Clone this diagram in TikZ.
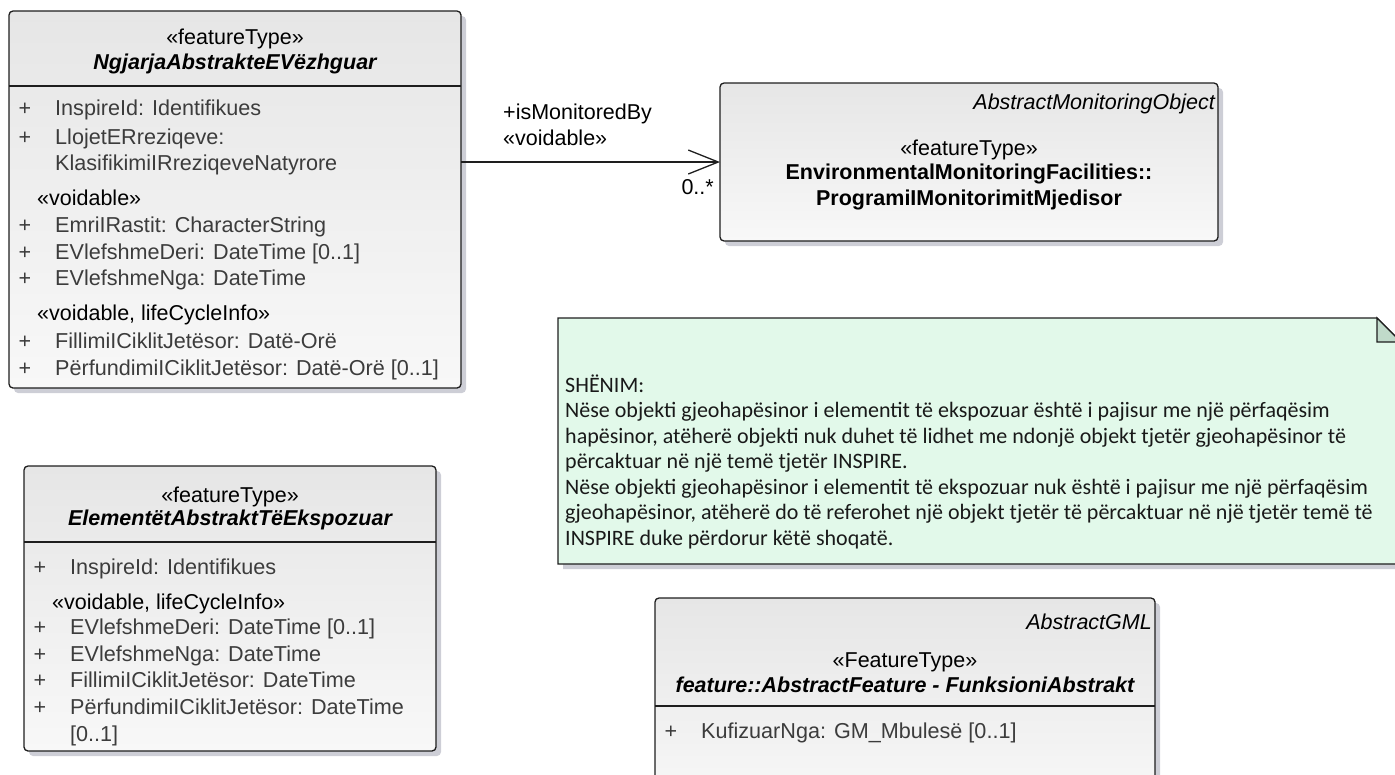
\documentclass[tikz,border=0pt]{standalone}
\usepackage{fontspec}
\setmainfont{Liberation Sans}
\newfontfamily\notefont{Carlito}
\usetikzlibrary{shadows,arrows.meta}
\definecolor{edge}{HTML}{1E1E1E}
\definecolor{attrc}{HTML}{3C3C3C}
\definecolor{shadowc}{HTML}{CDCED6}
\definecolor{notefill}{HTML}{E2F9EA}
\definecolor{foldfill}{HTML}{C0DACA}
\definecolor{boxtop}{HTML}{E6E6E6}
\definecolor{boxbot}{HTML}{F8F8F8}
\begin{document}
\begin{tikzpicture}[x=1pt,y=-1pt,
  classbox/.style={draw=edge, line width=1.3pt, rounded corners=4pt, anchor=north west, inner sep=0pt, outer sep=0pt,
     top color=boxtop, bottom color=boxbot,
     drop shadow={shadow xshift=5pt, shadow yshift=-5pt, fill=shadowc, opacity=1}},
  divider/.style={draw=edge, line width=1.3pt},
  stereo/.style={inner sep=0pt, anchor=base, font=\fontsize{21.5}{26}\selectfont},
  cname/.style={inner sep=0pt, anchor=base, font=\fontsize{21.5}{26}\selectfont\bfseries\itshape},
  pname/.style={inner sep=0pt, anchor=base, font=\fontsize{21.5}{26}\selectfont\bfseries},
  attr/.style={inner sep=0pt, anchor=base west, text=attrc, font=\fontsize{21.6}{26}\selectfont},
  vis/.style={inner sep=0pt, anchor=base, text=attrc, font=\fontsize{21.5}{26}\selectfont},
  grp/.style={inner sep=0pt, anchor=base west, font=\fontsize{21.5}{26}\selectfont},
  absn/.style={inner sep=0pt, anchor=base east, font=\fontsize{21.5}{26}\selectfont\itshape},
  lbl/.style={inner sep=0pt, font=\fontsize{21.5}{26}\selectfont},
  notetext/.style={inner sep=0pt, anchor=base west, text=black!90, font=\notefont\fontsize{22}{25.5}\selectfont},
  assoc/.style={draw=edge, line width=1.3pt, -{Straight Barb[length=30pt,width=24pt,line width=1.3pt]}}
]
\useasboundingbox (0,0) rectangle (1395,774);
\clip (0,0) rectangle (1395,774);

% ---------- Box A ----------
\node[classbox, minimum width=452pt, minimum height=377pt] (a) at (9,11) {};
\draw[divider] (a.north west |- 0,86) -- (a.north east |- 0,86);
\node[stereo] (a-st) at (235,44.5) {«featureType»};
\node[cname] (a-nm) at (235,69.5) {NgjarjaAbstrakteEVëzhguar};
\node[vis] (a-p1) at (25,115.5) {+};
\node[attr] (a-t1) at (55,115.5) {InspireId: Identifikues};
\node[vis] (a-p2) at (25,144.5) {+};
\node[attr] (a-t2) at (55,144.5) {LlojetERreziqeve:};
\node[attr] (a-t2b) at (55,170.5) {KlasifikimiIRreziqeveNatyrore};
\node[grp] (a-g1) at (37,205.5) {«voidable»};
\node[vis] (a-p3) at (25,232.5) {+};
\node[attr] (a-t3) at (55,232.5) {EmriIRastit: CharacterString};
\node[vis] (a-p4) at (25,259.5) {+};
\node[attr] (a-t4) at (55,259.5) {EVlefshmeDeri: DateTime [0..1]};
\node[vis] (a-p5) at (25,285.5) {+};
\node[attr] (a-t5) at (55,285.5) {EVlefshmeNga: DateTime};
\node[grp] (a-g2) at (37,320.5) {«voidable, lifeCycleInfo»};
\node[vis] (a-p6) at (25,348.5) {+};
\node[attr] (a-t6) at (55,348.5) {FillimiICiklitJetësor: Datë-Orë};
\node[vis] (a-p7) at (25,375.5) {+};
\node[attr] (a-t7) at (55,375.5) {PërfundimiICiklitJetësor: Datë-Orë [0..1]};

% ---------- Box B ----------
\node[classbox, minimum width=498pt, minimum height=158pt] (b) at (720,83) {};
\node[absn] (b-ab) at (1215,109.5) {AbstractMonitoringObject};
\node[stereo] (b-st) at (969,155.5) {«featureType»};
\node[pname] (b-n1) at (969,179.5) {EnvironmentalMonitoringFacilities::};
\node[pname] (b-n2) at (969,205.5) {ProgramiIMonitorimitMjedisor};

% ---------- Association ----------
\draw[assoc] (a.east |- b.west) -- (b.west);
\node[lbl, anchor=base west] (role) at (503,119.5) {+isMonitoredBy};
\node[lbl, anchor=base west] (rolest) at (503,145.5) {«voidable»};
\node[lbl, anchor=base east] (mult) at (714,194.5) {0..*};

% ---------- Note ----------
\path[draw=edge, line width=1.3pt, fill=notefill,
      drop shadow={shadow xshift=5pt, shadow yshift=-5pt, fill=shadowc, opacity=1}]
  (558,318) -- (1377,318) -- (1401,342) -- (1401,564) -- (558,564) -- cycle;
\path[draw=edge, line width=1.3pt, fill=foldfill] (1377,318) -- (1377,342) -- (1401,342) -- cycle;
\node[notetext] (n0) at (565,392) {SHËNIM:};
\node[notetext] (n1) at (565,417.5) {Nëse objekti gjeohapësinor i elementit të ekspozuar është i pajisur me një përfaqësim};
\node[notetext] (n2) at (565,443) {hapësinor, atëherë objekti nuk duhet të lidhet me ndonjë objekt tjetër gjeohapësinor të};
\node[notetext] (n3) at (565,468.5) {përcaktuar në një temë tjetër INSPIRE.};
\node[notetext] (n4) at (565,494) {Nëse objekti gjeohapësinor i elementit të ekspozuar nuk është i pajisur me një përfaqësim};
\node[notetext] (n5) at (565,519.5) {gjeohapësinor, atëherë do të referohet një objekt tjetër të përcaktuar në një tjetër temë të};
\node[notetext] (n6) at (565,545) {INSPIRE duke përdorur këtë shoqatë.};

% ---------- Box C ----------
\node[classbox, minimum width=412pt, minimum height=285pt] (c) at (24,466) {};
\draw[divider] (c.north west |- 0,542) -- (c.north east |- 0,542);
\node[stereo] (c-st) at (230,502) {«featureType»};
\node[cname] (c-nm) at (230,525.5) {ElementëtAbstraktTëEkspozuar};
\node[vis] (c-p1) at (40,574.5) {+};
\node[attr] (c-t1) at (70,574.5) {InspireId: Identifikues};
\node[grp] (c-g1) at (52,609.5) {«voidable, lifeCycleInfo»};
\node[vis] (c-p2) at (40,634.5) {+};
\node[attr] (c-t2) at (70,634.5) {EVlefshmeDeri: DateTime [0..1]};
\node[vis] (c-p3) at (40,661.5) {+};
\node[attr] (c-t3) at (70,661.5) {EVlefshmeNga: DateTime};
\node[vis] (c-p4) at (40,687.5) {+};
\node[attr] (c-t4) at (70,687.5) {FillimiICiklitJetësor: DateTime};
\node[vis] (c-p5) at (40,714.5) {+};
\node[attr] (c-t5) at (70,714.5) {PërfundimiICiklitJetësor: DateTime};
\node[attr] (c-t5b) at (70,741.5) {[0..1]};

% ---------- Box D ----------
\node[classbox, minimum width=500pt, minimum height=210pt] (d) at (655,598) {};
\draw[divider] (d.north west |- 0,706) -- (d.north east |- 0,706);
\node[absn] (d-ab) at (1152,629.5) {AbstractGML};
\node[stereo] (d-st) at (905,667.5) {«FeatureType»};
\node[cname] (d-nm) at (905,692.5) {feature::AbstractFeature - FunksioniAbstrakt};
\node[vis] (d-p1) at (671,738.5) {+};
\node[attr] (d-t1) at (701,738.5) {KufizuarNga: GM\_Mbulesë [0..1]};
\end{tikzpicture}
\end{document}
